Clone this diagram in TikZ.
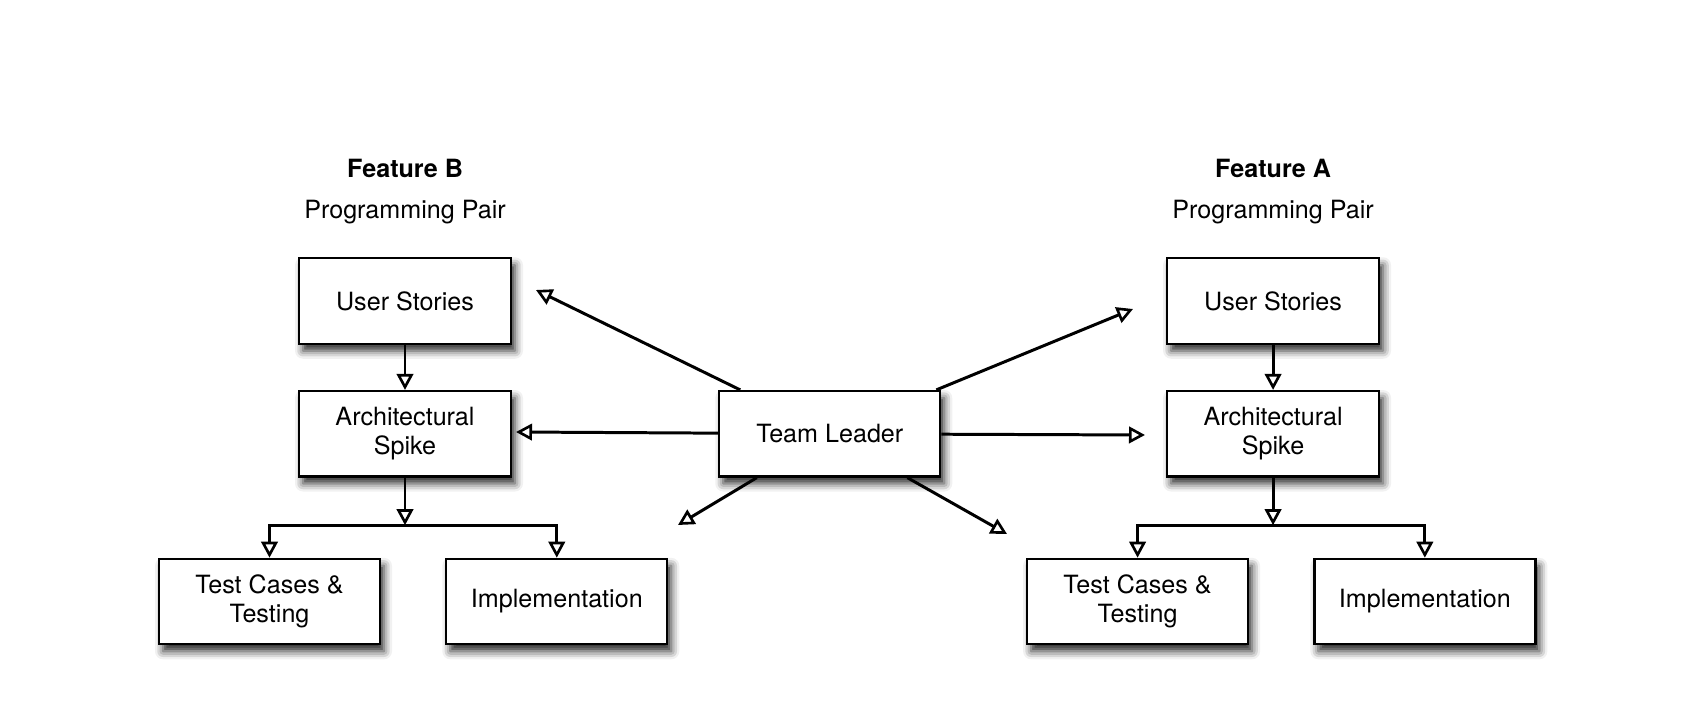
\documentclass[tikz,border=0pt]{standalone}
\usepackage{fontspec}
\setmainfont{TeX Gyre Heros}
\usepackage{tikz}
\usetikzlibrary{arrows.meta, positioning, shadows, shadows.blur}

\begin{document}
\begin{tikzpicture}[
    node distance=1cm,
    box/.style={rectangle, minimum width=4.24cm, minimum height=1.71cm, text centered, align=center, draw=black, line width=1.3pt, fill=white, font=\fontsize{14.3}{16.8}\selectfont,
        blur shadow={shadow xshift=0.8mm, shadow yshift=-1.4mm, shadow blur radius=1.6mm, shadow opacity=85}},
    wbox/.style={box, minimum width=4.42cm},
    title/.style={inner sep=0pt, font=\fontsize{14.3}{16.8}\selectfont},
    arrow/.style={line width=1.7pt, -{Triangle[open, length=3.2mm, width=3.3mm, line width=1.5pt]}}
]
    \useasboundingbox (0,0) rectangle (33.76,-14.5);

    % feature B (left)
    \node[box] (usB) at (8.10,-6.02) {User Stories};
    \node[box, below=0.9cm of usB] (spB) {Architectural\\Spike};
    \node[wbox, below=1.6cm of spB, xshift=-2.71cm] (tcB) {Test Cases \&\\Testing};
    \node[wbox, right=1.28cm of tcB] (imB) {Implementation};
    \node[title, above=0.66cm of usB] (pairB) {Programming Pair};
    \node[title, above=0.44cm of pairB] (featB) {\textbf{Feature B}};

    % team leader
    \node[box, minimum width=4.42cm, right=4.12cm of spB] (lead) {Team Leader};

    % feature A (right)
    \node[box, right=4.49cm of lead] (spA) {Architectural\\Spike};
    \node[box, above=0.9cm of spA] (usA) {User Stories};
    \node[wbox, below=1.6cm of spA, xshift=-2.71cm] (tcA) {Test Cases \&\\Testing};
    \node[wbox, right=1.28cm of tcA] (imA) {Implementation};
    \node[title, above=0.66cm of usA] (pairA) {Programming Pair};
    \node[title, above=0.44cm of pairA] (featA) {\textbf{Feature A}};

    % branch points and free ends
    \coordinate[below=0.95cm of spB] (jB);
    \coordinate[below=0.95cm of spA] (jA);
    \coordinate (toUL) at (10.72,-5.80);
    \coordinate (toL) at (10.32,-8.64);
    \coordinate (toLL) at (13.56,-10.50);
    \coordinate (toLR) at (20.14,-10.68);
    \coordinate (toR) at (22.90,-8.70);
    \coordinate (toUR) at (22.66,-6.18);

    \draw[arrow] (usB) -- (spB);
    \draw[arrow] (spB) -- (jB);
    \draw[arrow] (jB) -| (tcB);
    \draw[arrow] (jB) -| (imB);

    \draw[arrow] (usA) -- (spA);
    \draw[arrow] (spA) -- (jA);
    \draw[arrow] (jA) -| (tcA);
    \draw[arrow] (jA) -| (imA);

    \draw[arrow] (lead) -- (toUL);
    \draw[arrow] (lead) -- (toL);
    \draw[arrow] (lead) -- (toLL);
    \draw[arrow] (lead) -- (toLR);
    \draw[arrow] (lead) -- (toR);
    \draw[arrow] (lead) -- (toUR);

\end{tikzpicture}
\end{document}
